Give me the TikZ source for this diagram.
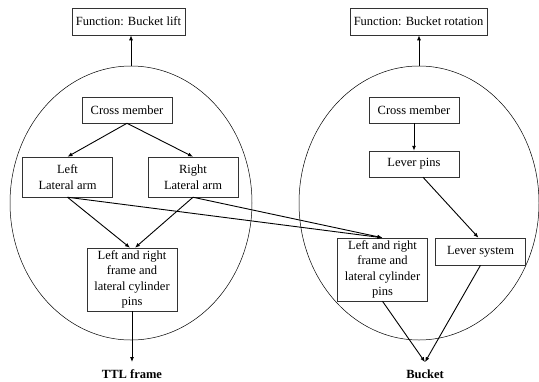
\documentclass[tikz,border=0pt]{standalone}
\usepackage{fontspec}
\setmainfont{Liberation Serif}
\usetikzlibrary{arrows.meta,shapes.geometric}

\tikzset{
    part/.style = {draw = black!80, line width = 0.5pt, align = center,
                   minimum width = 90pt, minimum height = 26pt, inner sep = 2pt},
    func/.style = {part, minimum height = 27pt, inner xsep = 4pt},
    group/.style = {draw, ellipse, line width = 0.5pt, inner sep = 0pt},
    outlabel/.style = {font = \fontsize{12.5}{15.5}\selectfont\bfseries,
                       inner ysep = 0pt, outer ysep = 8pt},
    flow/.style = {->, line width = 0.9pt},
}

\begin{document}
\begin{tikzpicture}[x = 1pt, y = -1pt, >={Latex[length = 5pt, width = 4pt]},
                    font = \fontsize{12.5}{15.5}\selectfont]
    \useasboundingbox (0,0) rectangle (539,381);

    % the two groups
    \node[group, minimum width = 242pt, minimum height = 274pt] (liftsys) at (131,203) {};
    \node[group, minimum width = 240pt, minimum height = 274pt] (rotsys) at (419,203) {};

    % functions
    \node[func] (fnlift) at (128.5,21.5) {Function: Bucket lift};
    \node[func] (fnrot) at (418.5,21.5) {Function: Bucket rotation};

    % lift side
    \node[part] (crossL) at (127,110) {Cross member};
    \node[part, minimum height = 40pt] (leftarm) at (67.5,177) {Left\\Lateral arm};
    \node[part, minimum height = 40pt] (rightarm) at (193,177) {Right\\Lateral arm};
    \node[part, minimum height = 63pt] (pinsL) at (132,279.5)
        {Left and right\\frame and\\lateral cylinder\\pins};

    % rotation side
    \node[part] (crossR) at (414,110) {Cross member};
    \node[part] (leverpins) at (414,164) {Lever pins};
    \node[part, minimum height = 63pt] (pinsR) at (382.5,269.5)
        {Left and right\\frame and\\lateral cylinder\\pins};
    \node[part, minimum height = 27pt] (leversys) at (480.5,251.5) {Lever system};

    % outputs
    \node[outlabel] (ttl) at (132,374.5) {TTL frame};
    \node[outlabel] (bucket) at (425,374.5) {Bucket};

    % connectors
    \draw[flow] (liftsys.north) -- (liftsys.north |- fnlift.south);
    \draw[flow] (rotsys.north) -- (rotsys.north |- fnrot.south);
    \foreach \arm in {leftarm, rightarm}
        \draw[flow] (crossL.south) -- (\arm.north);
    \draw[flow] (leftarm.south) -- ([xshift = -2]pinsL.north);
    \draw[flow] (rightarm.south) -- ([xshift = 3]pinsL.north);
    \foreach \arm in {leftarm, rightarm}
        \draw[flow] (\arm.south) -- (pinsR.north);
    \draw[flow] (pinsL.south) -- (ttl.north);
    \draw[flow] (crossR.south) -- (leverpins.south |- leverpins.north);
    \draw[flow] ([xshift = 9]leverpins.south) -- ([xshift = -2]leversys.north);
    \draw[flow] (pinsR.south) -- (bucket.north);
    \draw[flow] (leversys.south) -- (bucket.north);
\end{tikzpicture}
\end{document}
